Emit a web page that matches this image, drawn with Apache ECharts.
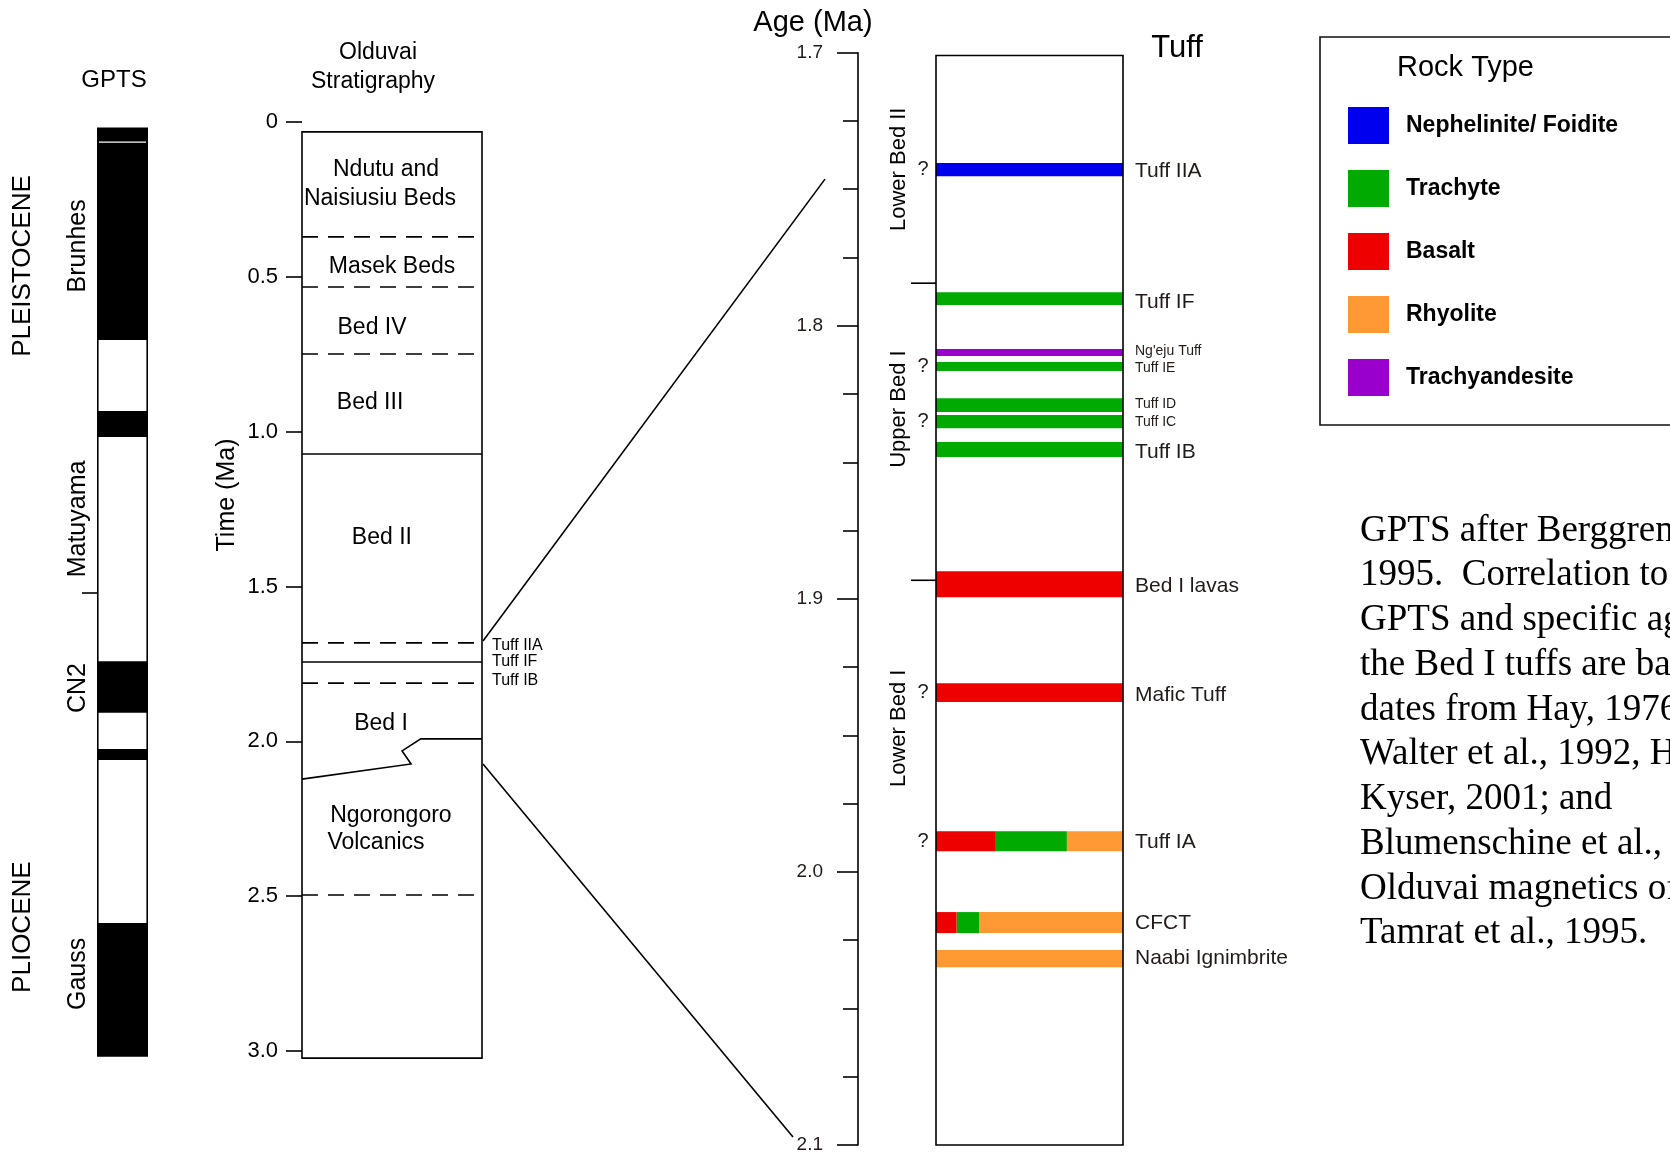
<!DOCTYPE html>
<html><head><meta charset="utf-8">
<script src="https://cdn.jsdelivr.net/npm/echarts@6/dist/echarts.min.js"></script>
<style>html,body{margin:0;padding:0;background:#fff;overflow:hidden}#c{width:1670px;height:1155px}</style>
</head><body><div id="c"></div>
<script>
// ================= DATA =================
// GPTS column (ages in Ma)
const gptsExtent = [0.020, 3.016];
const gptsNormal = [[0.020, 0.704], [0.933, 1.017], [1.741, 1.908], [2.025, 2.060], [2.587, 3.016]];
const gptsThinReversal = [0.065];
const gptsChronNames = ['Brunhes', 'Matuyama', 'CN2', 'Gauss'];
const gptsChronLabelAge = [0.400, 1.282, 1.828, 2.751];
const epochNames = ['PLEISTOCENE', 'PLIOCENE'];
const epochLabelAge = [0.465, 2.600];
const gptsMarkAge = [1.521];

// Olduvai stratigraphy column (Time, Ma)
const stratExtent = [0.032, 3.023];
const stratContactAge = [0.371, 0.533, 0.749, 1.072, 1.682, 1.744, 1.812, 2.496];
const stratContactDashed = [true, true, true, false, true, false, true, true];
const stratUnitNames = ['Ndutu and', 'Naisiusiu Beds', 'Masek Beds', 'Bed IV', 'Bed III', 'Bed II', 'Bed I', 'Ngorongoro', 'Volcanics'];
const stratUnitLabelAge = [0.155, 0.249, 0.468, 0.665, 0.907, 1.343, 1.944, 2.241, 2.328];
const ngorongoroContact = [[1.0, 1.992], [0.66, 1.992], [0.556, 2.031], [0.606, 2.073], [0, 2.122]]; // [fraction of column width, age]
const stratTuffNames = ['Tuff IIA', 'Tuff IF', 'Tuff IB'];
const stratTuffAge = [1.692, 1.744, 1.805];
const zoomFromAge = [1.676, 2.073];   // on the stratigraphy column
const zoomToAge = [1.7463, 2.0971];   // on the tuff age axis

// Tuff column (Age, Ma)
const rockTypes = ['Nephelinite/ Foidite', 'Trachyte', 'Basalt', 'Rhyolite', 'Trachyandesite'];
const tuffNames = ['Tuff IIA', 'Tuff IF', "Ng'eju Tuff", 'Tuff IE', 'Tuff ID', 'Tuff IC', 'Tuff IB', 'Bed I lavas', 'Mafic Tuff', 'Tuff IA', 'CFCT', 'Naabi Ignimbrite'];
const tuffTop  = [1.7404, 1.7877, 1.8085, 1.8133, 1.8265, 1.8327, 1.8426, 1.8899, 1.9309, 1.9851, 2.0147, 2.0286];
const tuffBase = [1.7452, 1.7924, 1.8111, 1.8166, 1.8316, 1.8375, 1.8481, 1.8994, 1.9378, 1.9924, 2.0224, 2.0349];
// composition, left to right: [rock type index, fraction]
const tuffMix = [
  [[0, 1]], [[1, 1]], [[4, 1]], [[1, 1]], [[1, 1]], [[1, 1]], [[1, 1]], [[2, 1]], [[2, 1]],
  [[2, 0.32], [1, 0.38], [3, 0.30]],
  [[2, 0.11], [1, 0.12], [3, 0.77]],
  [[3, 1]]
];
const tuffQueried = [true, false, false, true, false, true, false, false, true, true, false, false];
const tuffBoxExtent = [1.701, 2.100];
const unitNames = ['Lower Bed II', 'Upper Bed I', 'Lower Bed I'];
const unitLabelAge = [1.7427, 1.8305, 1.9474];
const unitBoundaryAge = [1.7844, 1.8932];

const noteLines = [
  'GPTS after Berggren et al.,',
  '1995.  Correlation to the',
  'GPTS and specific ages of',
  'the Bed I tuffs are based on',
  'dates from Hay, 1976;',
  'Walter et al., 1992, Hay &',
  'Kyser, 2001; and',
  'Blumenschine et al., 2003.',
  'Olduvai magnetics of',
  'Tamrat et al., 1995.'
];

// ================= STYLE / LAYOUT =================
const FONT = '"Liberation Sans", Arial, Helvetica, sans-serif';
const SERIF = '"Liberation Serif", "Times New Roman", serif';
const INK = '#000';
const LABEL_INK = '#221a17';
const LW = 1.6;
const rockColors = ['#0000EE', '#00AA00', '#EE0000', '#FF9933', '#9900CC'];
const tuffLabelSize = [21, 21, 14, 14, 14, 14, 21, 21, 21, 21, 21, 21];
const tuffLabelDy   = [2, 4, -1, 2, -1, 1, 3, 2, 3, 1, 1, 0];
const stratLabelX = [0.467, 0.433, 0.5, 0.389, 0.378, 0.444, 0.439, 0.494, 0.411];
const connectorEndGap = [111, 143];

function T(x, y, text, size, o) {
  o = o || {};
  const al = o.align || 'center';
  return {
    type: 'text', x: x, y: y, rotation: o.rotation || 0, silent: true,
    style: {
      text: text, fill: o.color || INK, fontSize: size, fontFamily: o.family || FONT,
      fontWeight: o.weight || 'normal', align: al, textAlign: al,
      verticalAlign: 'middle', textVerticalAlign: 'middle'
    }
  };
}
function L(x1, y1, x2, y2, dash) {
  return { type: 'line', shape: { x1: x1, y1: y1, x2: x2, y2: y2 },
    style: { stroke: INK, lineWidth: LW, lineDash: dash || null } };
}
function cs(grid, data, renderItem, extra) {
  return Object.assign({ type: 'custom', coordinateSystem: 'cartesian2d', xAxisIndex: grid, yAxisIndex: grid,
    clip: false, silent: true, data: data, renderItem: renderItem }, extra || {});
}
const R90 = Math.PI / 2;

// ================= SERIES =================
const series = [];

// --- GPTS ---
series.push(cs(0, gptsNormal, function (p, api) {
  const a = api.coord([0, api.value(0)]), b = api.coord([1, api.value(1)]);
  return { type: 'rect', shape: { x: a[0], y: a[1], width: b[0] - a[0], height: b[1] - a[1] }, style: { fill: INK } };
}));
series.push(cs(0, [gptsExtent], function (p, api) {
  const a = api.coord([0, api.value(0)]), b = api.coord([1, api.value(1)]);
  return { type: 'rect', shape: { x: a[0] + 0.8, y: a[1], width: b[0] - a[0] - 1.6, height: b[1] - a[1] },
    style: { fill: null, stroke: INK, lineWidth: LW } };
}));
series.push(cs(0, gptsThinReversal.map(v => [v]), function (p, api) {
  const a = api.coord([0, api.value(0)]), b = api.coord([1, api.value(0)]);
  return { type: 'line', shape: { x1: a[0] + 2, y1: a[1], x2: b[0] - 2, y2: b[1] }, style: { stroke: '#fff', lineWidth: 1.4 } };
}));
series.push(cs(0, gptsChronLabelAge.map(v => [v]), function (p, api) {
  const a = api.coord([0, api.value(0)]);
  return T(a[0] - 19, a[1], gptsChronNames[p.dataIndex], 25, { rotation: R90 });
}));
series.push(cs(0, epochLabelAge.map(v => [v]), function (p, api) {
  const a = api.coord([0, api.value(0)]);
  return T(a[0] - 74, a[1], epochNames[p.dataIndex], 26, { rotation: R90 });
}));
series.push(cs(0, gptsMarkAge.map(v => [v]), function (p, api) {
  const a = api.coord([0, api.value(0)]);
  return L(a[0] - 15, a[1], a[0], a[1]);
}));

// --- Stratigraphy ---
series.push(cs(1, [stratExtent], function (p, api) {
  const a = api.coord([0, api.value(0)]), b = api.coord([1, api.value(1)]);
  return { type: 'rect', shape: { x: a[0], y: a[1], width: b[0] - a[0], height: b[1] - a[1] },
    style: { fill: null, stroke: INK, lineWidth: LW } };
}));
series.push(cs(1, stratContactAge.map(v => [v]), function (p, api) {
  const a = api.coord([0, api.value(0)]), b = api.coord([1, api.value(0)]);
  return L(a[0], a[1], b[0], b[1], stratContactDashed[p.dataIndex] ? [16, 10] : null);
}));
series.push(cs(1, [[0]], function (p, api) {
  const pts = ngorongoroContact.map(d => api.coord(d));
  return { type: 'polyline', shape: { points: pts }, style: { stroke: INK, lineWidth: LW, fill: null } };
}));
series.push(cs(1, stratUnitLabelAge.map(v => [v]), function (p, api) {
  const a = api.coord([stratLabelX[p.dataIndex], api.value(0)]);
  return T(a[0], a[1], stratUnitNames[p.dataIndex], 23);
}));
series.push(cs(1, stratTuffAge.map(v => [v]), function (p, api) {
  const a = api.coord([1, api.value(0)]);
  return T(a[0] + 10, a[1], stratTuffNames[p.dataIndex], 16, { align: 'left' });
}));

// --- Tuff column: bands per rock type ---
rockTypes.forEach(function (name, r) {
  const data = [];
  tuffMix.forEach(function (mix, i) {
    let acc = 0;
    mix.forEach(function (seg) {
      if (seg[0] === r) data.push([acc, acc + seg[1], tuffTop[i], tuffBase[i]]);
      acc += seg[1];
    });
  });
  series.push(cs(2, data, function (p, api) {
    const a = api.coord([api.value(0), api.value(2)]), b = api.coord([api.value(1), api.value(3)]);
    return { type: 'rect', shape: { x: a[0], y: a[1], width: b[0] - a[0], height: b[1] - a[1] },
      style: { fill: rockColors[r] } };
  }, { name: name, itemStyle: { color: rockColors[r] } }));
});
series.push(cs(2, [tuffBoxExtent], function (p, api) {
  const a = api.coord([0, api.value(0)]), b = api.coord([1, api.value(1)]);
  return { type: 'rect', shape: { x: a[0], y: a[1], width: b[0] - a[0], height: b[1] - a[1] },
    style: { fill: null, stroke: INK, lineWidth: LW } };
}));
series.push(cs(2, tuffNames.map((n, i) => [(tuffTop[i] + tuffBase[i]) / 2]), function (p, api) {
  const i = p.dataIndex;
  const r = api.coord([1, api.value(0)]), l = api.coord([0, api.value(0)]);
  const kids = [T(r[0] + 12, r[1] + tuffLabelDy[i], tuffNames[i], tuffLabelSize[i], { align: 'left', color: LABEL_INK })];
  if (tuffQueried[i]) kids.push(T(l[0] - 13, l[1], '?', 20, { color: LABEL_INK }));
  return { type: 'group', children: kids };
}));
series.push(cs(2, unitLabelAge.map(v => [v]), function (p, api) {
  const a = api.coord([0, api.value(0)]);
  return T(a[0] - 37, a[1], unitNames[p.dataIndex], 22, { rotation: R90 });
}));
series.push(cs(2, unitBoundaryAge.map(v => [v]), function (p, api) {
  const a = api.coord([0, api.value(0)]);
  return L(a[0] - 25, a[1], a[0], a[1]);
}));

// ================= CHART =================
const chart = echarts.init(document.getElementById('c'), null, { renderer: 'canvas' });
const hiddenX = g => ({ gridIndex: g, type: 'value', min: 0, max: 1, show: false });
chart.setOption({
  animation: false,
  backgroundColor: '#fff',
  textStyle: { fontFamily: FONT },
  grid: [
    { left: 97, top: 122, width: 51, height: 929 },
    { left: 302, top: 122, width: 180, height: 929 },
    { left: 936, top: 52.7, width: 187, height: 1092.3 }
  ],
  xAxis: [hiddenX(0), hiddenX(1), hiddenX(2)],
  yAxis: [
    { gridIndex: 0, type: 'value', min: 0, max: 3, inverse: true, show: false },
    { gridIndex: 1, type: 'value', min: 0, max: 3, interval: 0.5, inverse: true,
      axisLine: { show: false, onZero: false },
      axisTick: { show: true, length: 16, lineStyle: { color: INK, width: LW } },
      axisLabel: { margin: 24, fontSize: 22, color: INK, fontFamily: FONT,
        formatter: v => (v === 0 ? '0' : v.toFixed(1)) },
      splitLine: { show: false } },
    { gridIndex: 2, type: 'value', min: 1.7, max: 2.1, interval: 0.1, inverse: true, offset: 78,
      axisLine: { show: true, onZero: false, lineStyle: { color: INK, width: LW } },
      axisTick: { show: true, length: 21, lineStyle: { color: INK, width: LW } },
      minorTick: { show: true, splitNumber: 4, length: 15, lineStyle: { color: INK, width: LW } },
      axisLabel: { margin: 35, fontSize: 19, color: LABEL_INK, fontFamily: FONT, formatter: v => v.toFixed(1) },
      splitLine: { show: false }, minorSplitLine: { show: false } }
  ],
  legend: {
    orient: 'vertical', left: 1348, top: 107, padding: 0,
    itemWidth: 41, itemHeight: 37, itemGap: 26, icon: 'rect', selectedMode: false,
    data: rockTypes,
    textStyle: { fontFamily: FONT, fontSize: 23, fontWeight: 'bold', color: INK, padding: [0, 0, 0, 12] }
  },
  series: series
});

// ================= GRAPHICS (titles, notes, zoom connectors) =================
const g = [];
g.push(T(114, 80, 'GPTS', 24));
g.push(T(378, 53, 'Olduvai', 23));
g.push(T(373, 82, 'Stratigraphy', 23));
g.push(T(227, 495, 'Time (Ma)', 25, { rotation: R90 }));
g.push(T(813, 23, 'Age (Ma)', 29));
g.push(T(1177, 48, 'Tuff', 31));
g.push({ type: 'rect', silent: true, shape: { x: 1320, y: 37, width: 420, height: 388 },
  style: { fill: null, stroke: '#111', lineWidth: 1.6 } });
g.push(T(1397, 68, 'Rock Type', 29, { align: 'left' }));
noteLines.forEach((s, i) => g.push(T(1360, 531 + i * 44.75, s, 37, { align: 'left', family: SERIF })));
zoomFromAge.forEach(function (age, i) {
  const s = chart.convertToPixel({ gridIndex: 1 }, [1, age]);
  const e = chart.convertToPixel({ gridIndex: 2 }, [0, zoomToAge[i]]);
  g.push(Object.assign(L(s[0] + 1, s[1], e[0] - connectorEndGap[i], e[1]), { silent: true }));
});
chart.setOption({ graphic: { elements: g } });
</script></body></html>
